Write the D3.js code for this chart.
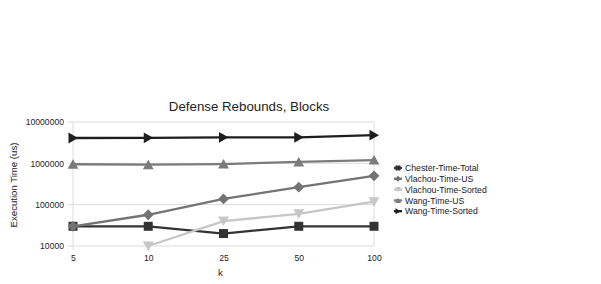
<!DOCTYPE html>
<html>
<head>
<meta charset="utf-8">
<script src="https://cdn.jsdelivr.net/npm/d3@7"></script>
<style>
  body { margin: 0; background: #fff; font-family: "Liberation Sans", Arial, sans-serif; }
  .tick text { font-size: 8.6px; fill: #222; }
</style>
</head>
<body>
<div id="chart"></div>
<script>
const categories = ['5', '10', '25', '50', '100'];
const seriesNames = ['Chester-Time-Total', 'Vlachou-Time-US', 'Vlachou-Time-Sorted', 'Wang-Time-US', 'Wang-Time-Sorted'];
const chesterTotal = [30000, 30000, 20000, 30000, 30000];
const vlachouUS = [30000, 57000, 138000, 265000, 500000];
const vlachouSorted = [null, 10000, 40000, 60000, 118000];
const wangUS = [950000, 930000, 960000, 1080000, 1200000];
const wangSorted = [4100000, 4150000, 4250000, 4250000, 4800000];
const yTicks = [10000, 100000, 1000000, 10000000];

const colours = ['#333333', '#737373', '#c6c6c6', '#7b7b7b', '#1e1e1e'];
const symbols = ['square', 'diamond', 'down', 'up', 'right'];
const allValues = [chesterTotal, vlachouUS, vlachouSorted, wangUS, wangSorted];

const width = 601, height = 284;
const margin = {top: 122, right: 227, bottom: 38, left: 73};
const innerW = width - margin.left - margin.right;
const innerH = height - margin.top - margin.bottom;

const svg = d3.select('#chart').append('svg')
  .attr('width', width)
  .attr('height', height);

const x = d3.scalePoint().domain(categories).range([0, innerW]);
const y = d3.scaleLog().domain([10000, 10000000]).range([innerH, 0]);

const g = svg.append('g').attr('transform', `translate(${margin.left},${margin.top})`);

// grid
g.append('g').selectAll('line').data(yTicks).enter().append('line')
  .attr('x1', -5).attr('x2', innerW)
  .attr('y1', d => y(d)).attr('y2', d => y(d))
  .attr('stroke', '#dcdcdc').attr('stroke-width', 1);
g.append('line').attr('x1', innerW).attr('x2', innerW).attr('y1', 0).attr('y2', innerH)
  .attr('stroke', '#dcdcdc');
g.append('line').attr('x1', 0).attr('x2', 0).attr('y1', 0).attr('y2', innerH + 4)
  .attr('stroke', '#dcdcdc');

// axes
const yAxis = g.append('g')
  .call(d3.axisLeft(y).tickValues(yTicks).tickFormat(d3.format('d')).tickSize(0).tickPadding(9));
yAxis.select('.domain').remove();
const xAxis = g.append('g').attr('transform', `translate(0,${innerH})`)
  .call(d3.axisBottom(x).tickSize(0).tickPadding(9));
xAxis.select('.domain').remove();

function markerPath(type, size) {
  const s = size;
  if (type === 'square') return `M${-s},${-s}H${s}V${s}H${-s}Z`;
  if (type === 'diamond') return `M0,${-s*1.2}L${s*1.2},0L0,${s*1.2}L${-s*1.2},0Z`;
  if (type === 'down') return `M${-s*1.2},${-s}L${s*1.2},${-s}L0,${s*1.1}Z`;
  if (type === 'up') return `M${-s*1.2},${s}L${s*1.2},${s}L0,${-s*1.1}Z`;
  return `M${-s},${-s*1.2}L${s*1.1},0L${-s},${s*1.2}Z`;
}

const line = d3.line()
  .defined(d => d.v != null)
  .x(d => x(d.k))
  .y(d => y(d.v));

allValues.forEach((vals, i) => {
  const pts = categories.map((k, j) => ({k, v: vals[j]}));
  g.append('path').datum(pts)
    .attr('d', line)
    .attr('fill', 'none')
    .attr('stroke', colours[i])
    .attr('stroke-width', 2.3);
  g.append('g').selectAll('path').data(pts.filter(d => d.v != null)).enter().append('path')
    .attr('d', markerPath(symbols[i], 4.5))
    .attr('transform', d => `translate(${x(d.k)},${y(d.v)})`)
    .attr('fill', colours[i]);
});

// title and axis labels
svg.append('text').attr('x', 249).attr('y', 111).attr('text-anchor', 'middle')
  .attr('font-size', 13.3).attr('fill', '#222').text('Defense Rebounds, Blocks');
svg.append('text').attr('transform', `translate(17,185) rotate(-90)`)
  .attr('text-anchor', 'middle').attr('font-size', 9.6).attr('fill', '#222')
  .text('Execution Time (us)');
svg.append('text').attr('x', margin.left + x('25') - 3).attr('y', 276).attr('text-anchor', 'middle')
  .attr('font-size', 9.6).attr('fill', '#222').text('k');

// legend
const legend = svg.append('g').attr('transform', 'translate(398,168)');
seriesNames.forEach((name, i) => {
  const row = legend.append('g').attr('transform', `translate(0,${i * 10.8})`);
  row.append('line').attr('x1', -4).attr('x2', 4).attr('y1', 0).attr('y2', 0)
    .attr('stroke', colours[i]).attr('stroke-width', 2.3);
  row.append('path').attr('d', markerPath(symbols[i], 2.5)).attr('fill', colours[i]);
  row.append('text').attr('x', 7).attr('y', 3.2).attr('font-size', 8.7).attr('fill', '#222').text(name);
});
</script>
</body>
</html>
